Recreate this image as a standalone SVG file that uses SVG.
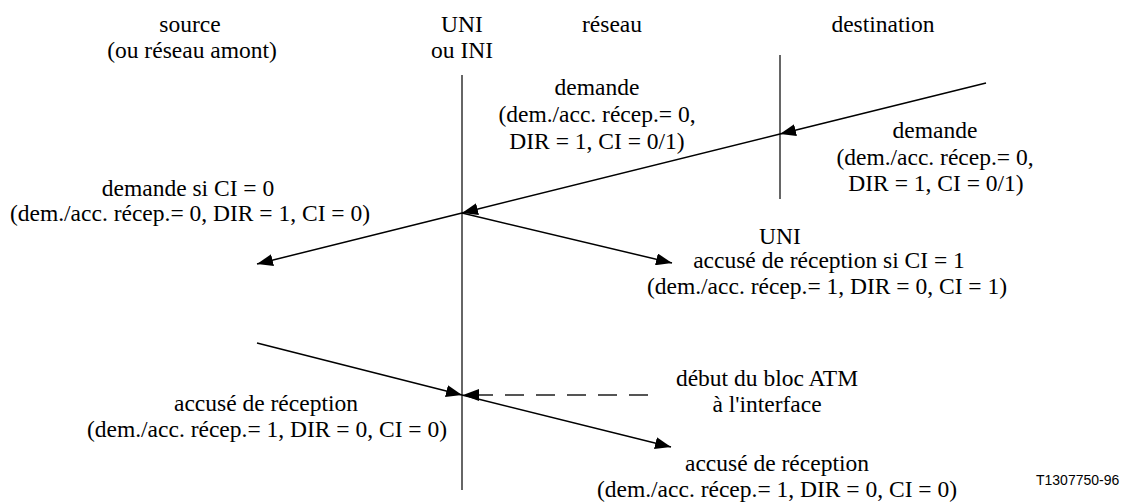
<svg xmlns="http://www.w3.org/2000/svg" width="1131" height="502" viewBox="0 0 1131 502">
  <style>
    text { font-family: "Liberation Serif", "Times New Roman", serif; font-size: 23.5px; fill: #000; text-anchor: middle; }
    .ref { font-family: "Liberation Sans", Arial, sans-serif; font-size: 14px; text-anchor: start; }
    .msg { stroke: #000; stroke-width: 1.5; fill: none; }
    .axis { stroke: #333; stroke-width: 1.5; }
    .dash { stroke: #555; stroke-width: 2; stroke-dasharray: 19 12; }
  </style>
  <defs>
    <marker id="head" viewBox="0 0 16 12" refX="16" refY="6" markerWidth="16" markerHeight="12" markerUnits="userSpaceOnUse" orient="auto">
      <path d="M0,0 L16,6 L0,12 Z" fill="#000"/>
    </marker>
  </defs>

  <!-- interface axes -->
  <g id="axis-uni-ini">
    <line class="axis" x1="462" y1="75" x2="462" y2="490"/>
  </g>
  <g id="axis-uni-dest">
    <line class="axis" x1="780" y1="55" x2="780" y2="199" stroke="#000"/>
  </g>

  <!-- column headings -->
  <g id="col-source">
    <text x="190" y="32">source</text>
    <text x="192" y="58">(ou réseau amont)</text>
  </g>
  <g id="col-uni-ini">
    <text x="462" y="32">UNI</text>
    <text x="462" y="58">ou INI</text>
  </g>
  <g id="col-reseau">
    <text x="612" y="32">réseau</text>
  </g>
  <g id="col-destination">
    <text x="883" y="32">destination</text>
  </g>
  <g id="label-uni-dest">
    <text x="780" y="244">UNI</text>
  </g>

  <!-- message flows -->
  <g id="connectors">
    <line class="msg" x1="986" y1="83" x2="780" y2="134" marker-end="url(#head)"/>
    <line class="msg" x1="780" y1="134" x2="462" y2="213" marker-end="url(#head)"/>
    <line class="msg" x1="462" y1="213" x2="257" y2="264" marker-end="url(#head)"/>
    <line class="msg" x1="462" y1="213" x2="672" y2="263" marker-end="url(#head)"/>
    <line class="msg" x1="257" y1="343" x2="462" y2="395" marker-end="url(#head)"/>
    <line class="msg" x1="462" y1="395" x2="671" y2="447" marker-end="url(#head)"/>
    <line class="dash" x1="648" y1="395" x2="478" y2="395"/>
    <path d="M463,395 L479,389 L479,401 Z" fill="#000"/>
  </g>

  <!-- message labels -->
  <g id="msg-demande-net">
    <text x="597" y="95">demande</text>
    <text x="597" y="122">(dem./acc. récep.= 0,</text>
    <text x="597" y="149">DIR = 1, CI = 0/1)</text>
  </g>
  <g id="msg-demande-dest">
    <text x="935" y="138">demande</text>
    <text x="935" y="165">(dem./acc. récep.= 0,</text>
    <text x="936" y="191">DIR = 1, CI = 0/1)</text>
  </g>
  <g id="msg-demande-src">
    <text x="188" y="196">demande si CI = 0</text>
    <text x="190" y="221">(dem./acc. récep.= 0, DIR = 1, CI = 0)</text>
  </g>
  <g id="msg-ack-ci1">
    <text x="829" y="268">accusé de réception si CI = 1</text>
    <text x="827" y="294">(dem./acc. récep.= 1, DIR = 0, CI = 1)</text>
  </g>
  <g id="msg-ack-src">
    <text x="266" y="411">accusé de réception</text>
    <text x="267" y="437">(dem./acc. récep.= 1, DIR = 0, CI = 0)</text>
  </g>
  <g id="note-atm">
    <text x="767" y="386">début du bloc ATM</text>
    <text x="767" y="412">à l'interface</text>
  </g>
  <g id="msg-ack-dest">
    <text x="777" y="471">accusé de réception</text>
    <text x="777" y="497">(dem./acc. récep.= 1, DIR = 0, CI = 0)</text>
  </g>

  <text class="ref" x="1036" y="485">T1307750-96</text>
</svg>
